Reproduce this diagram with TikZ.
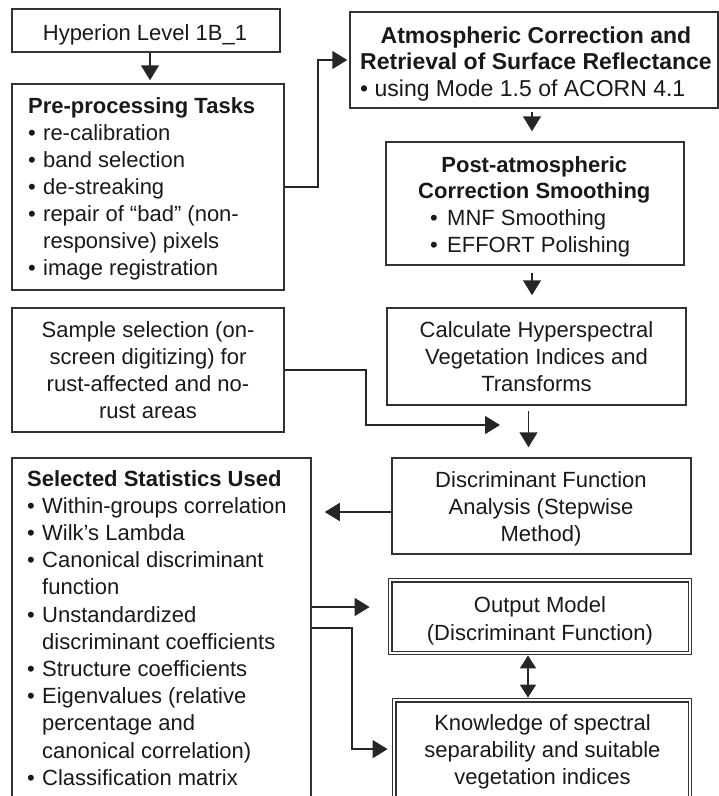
\documentclass[tikz,border=0pt]{standalone}
\usepackage{fontspec}
\setmainfont{Liberation Sans}
\usetikzlibrary{arrows.meta,calc}
\newcommand{\bul}{\makebox[15pt][l]{•}}
\newcommand{\bind}{\hspace*{15pt}}
\begin{document}
\begin{tikzpicture}[x=1pt,y=-1pt,
  box/.style={draw=black!80, line width=1.5pt, inner sep=0pt},
  dbox/.style={draw=black!80, line width=1.2pt, double=white, double distance=2.2pt, inner sep=0pt},
  conn/.style={draw=black!85, line width=1.5pt},
  arr/.style={conn, -{Triangle[length=15pt,width=18pt]}},
  darr/.style={conn, {Triangle[length=13pt,width=16pt]}-{Triangle[length=13pt,width=16pt]}},
  txt/.style={font=\fontsize{22}{27}\selectfont, inner sep=0pt, text=black!90},
]
\useasboundingbox (0,0) rectangle (719,796);
\clip (0,0) rectangle (719,796);

% boxes
\node[box, minimum width=268, minimum height=43] (hyp) at (146,30.5) {};
\node[box, minimum width=272, minimum height=206] (pre) at (148,187) {};
\node[box, minimum width=368, minimum height=96] (atm) at (534,60) {};
\node[box, minimum width=298, minimum height=123] (post) at (535,203.5) {};
\node[box, minimum width=299, minimum height=97] (calc) at (536.5,356.5) {};
\node[box, minimum width=272, minimum height=124] (sample) at (148,370) {};
\node[box, minimum width=299, minimum height=96] (disc) at (541.5,506) {};
\node[box, minimum width=299, minimum height=362] (sel) at (161.5,639) {};
\node[dbox, minimum width=299.6, minimum height=72.6] (out) at (540,616.5) {};
\node[dbox, minimum width=295.6, minimum height=119.8] (know) at (542,760.1) {};

% texts
\node[txt, anchor=base] (hypT) at (145,40) {Hyperion Level 1B\_1};
\node[txt, anchor=base west] (preT) at (28,113) {\begin{tabular}[t]{@{}l@{}}
\textbf{Pre-processing Tasks}\\
\bul re-calibration\\
\bul band selection\\
\bul de-streaking\\
\bul repair of “bad” (non-\\
\bind responsive) pixels\\
\bul image registration\end{tabular}};
\node[txt, font=\fontsize{23}{26.5}\selectfont, anchor=base west] (atmT) at (360,43) {\begin{tabular}[t]{@{}l@{}}
\multicolumn{1}{@{}c@{}}{\textbf{Atmospheric Correction and}}\\
\textbf{Retrieval of Surface Reflectance}\\
• using Mode 1.5 of ACORN 4.1\end{tabular}};
\node[txt, font=\fontsize{22}{26.7}\selectfont, anchor=base west] (postT) at (418,172) {\begin{tabular}[t]{@{}l@{}}
\multicolumn{1}{@{}c@{}}{\textbf{Post-atmospheric}}\\
\textbf{Correction Smoothing}\\
\hspace*{12pt}\makebox[17pt][l]{•}MNF Smoothing\\
\hspace*{12pt}\makebox[17pt][l]{•}EFFORT Polishing\end{tabular}};
\node[txt, anchor=base] (calcT) at (536.5,337) {\begin{tabular}[t]{@{}c@{}}
Calculate Hyperspectral\\ Vegetation Indices and\\ Transforms\end{tabular}};
\node[txt, anchor=base] (sampleT) at (148,337) {\begin{tabular}[t]{@{}c@{}}
Sample selection (on-\\ screen digitizing) for\\ rust-affected and no-\\ rust areas\end{tabular}};
\node[txt, anchor=base] (discT) at (541,487) {\begin{tabular}[t]{@{}c@{}}
Discriminant Function\\ Analysis (Stepwise\\ Method)\end{tabular}};
\node[txt, font=\fontsize{22}{27.2}\selectfont, anchor=base west] (selT) at (27,486) {\begin{tabular}[t]{@{}l@{}}
\textbf{Selected Statistics Used}\\
\bul Within-groups correlation\\
\bul Wilk’s Lambda\\
\bul Canonical discriminant\\
\bind function\\
\bul Unstandardized\\
\bind discriminant coefficients\\
\bul Structure coefficients\\
\bul Eigenvalues (relative\\
\bind percentage and\\
\bind canonical correlation)\\
\bul Classification matrix\end{tabular}};
\node[txt, font=\fontsize{22}{28}\selectfont, anchor=base] (outT) at (540,612) {\begin{tabular}[t]{@{}c@{}}
Output Model\\ (Discriminant Function)\end{tabular}};
\node[txt, anchor=base] (knowT) at (542.5,730) {\begin{tabular}[t]{@{}c@{}}
Knowledge of spectral\\ separability and suitable\\ vegetation indices\end{tabular}};

% helper coordinates
\coordinate (hs) at ($(hyp.south)+(4,0)$);
\coordinate (cd) at ($(calc.south)+(-8,0)$);
\coordinate (sm) at (500,425);
\coordinate (dw) at ($(disc.west)+(0,6)$);
\coordinate (so) at ($(sel.east)+(0,-32)$);
\coordinate (sk) at ($(sel.east)+(0,-11)$);
\coordinate (kw) at ($(know.west)+(0,-11)$);
\coordinate (ok) at ($(out.south)+(-12,0)$);

% connectors
\draw[arr, shorten >=3pt] (hs) -- (hs |- pre.north);
\draw[arr, shorten >=2pt] (pre.east) -- ++(33,0) |- (atm.west);
\draw[arr, shorten <=3pt, shorten >=10pt] ($(atm.south)+(-2,0)$) -- ($(atm.south |- post.north)+(-2,0)$);
\draw[arr, shorten <=7pt, shorten >=12pt] ($(post.south)+(-3,0)$) -- ($(post.south |- calc.north)+(-3,0)$);
\draw[arr, shorten <=5pt, shorten >=10pt] (cd) -- (cd |- disc.north);
\draw[arr] (sample.east) -- ++(81,0) |- (sm);
\draw[arr, shorten >=13pt] (dw) -- (dw -| sel.east);
\draw[arr, shorten >=20pt] (so) -- (so -| out.west);
\draw[arr, shorten >=6pt] (sk) -- ++(40,0) |- (kw);
\draw[darr, shorten <=2pt, shorten >=2pt] (ok) -- (ok |- know.north);
\end{tikzpicture}
\end{document}
